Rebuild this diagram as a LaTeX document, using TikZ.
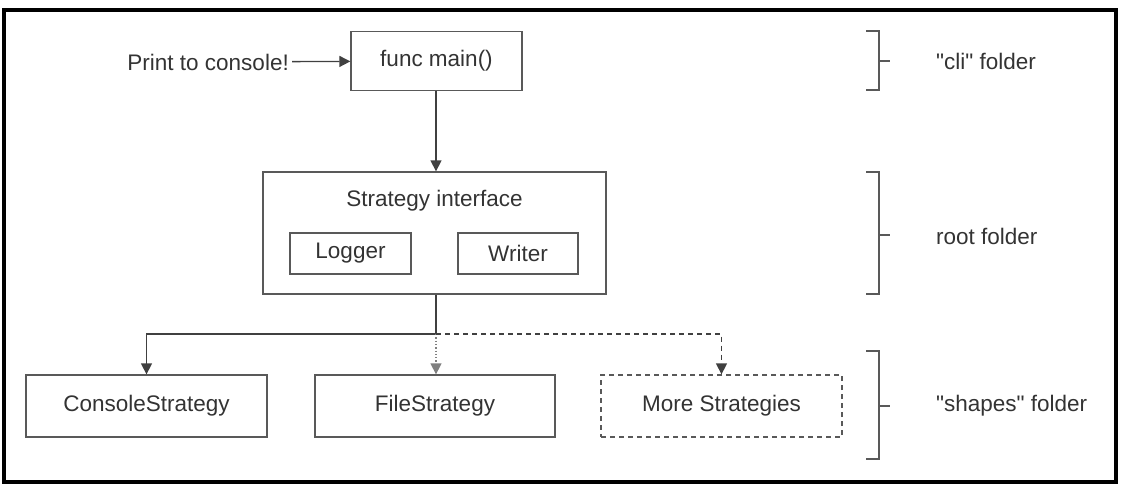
\documentclass[tikz,border=0pt]{standalone}
\usepackage{fontspec}
\setmainfont{Liberation Sans}
\usetikzlibrary{arrows.meta}
\begin{document}
\begin{tikzpicture}[x=1pt, y=-1pt]
% layout in pixel units of the reference
\providecommand{\pkgLineColor}{black!65}
\providecommand{\pkgTextColor}{black!80}
\providecommand{\pkgFrameWidth}{3.5pt}
\tikzset{
  pkgbox/.style={draw=\pkgLineColor, line width=1.3pt, text=\pkgTextColor,
    font=\fontsize{22.5}{26}\selectfont, inner sep=0pt},
  pkgtext/.style={text=\pkgTextColor, font=\fontsize{22.5}{26}\selectfont, inner sep=0pt},
  pkgarrow/.style={draw=black!75, line width=1.3pt, -{Triangle[width=11pt,length=11pt]}},
  pkgbrace/.style={draw=\pkgLineColor, line width=1.3pt}
}
\useasboundingbox (0,0) rectangle (1132,496);
% Outer frame
\draw[line width=\pkgFrameWidth] (4,10) rectangle (1116,482);
% Boxes
\node[pkgbox, minimum width=171pt, minimum height=59pt] (main) at (436.5,61) {func main()};
\node[pkgtext, anchor=east] (print) at (289,62) {Print to console!};
\node[pkgbox, minimum width=343pt, minimum height=122pt] (strat) at (434.5,233) {};
\node[pkgtext] (stratlabel) at (434.5,201) {Strategy interface};
\node[pkgbox, minimum width=121pt, minimum height=41pt] (logger) at (350.5,253.5) {Logger};
\node[pkgbox, minimum width=120pt, minimum height=41pt] (writer) at (518,253.5) {Writer};
\node[pkgbox, minimum width=241pt, minimum height=62pt] (console) at (146.5,406) {ConsoleStrategy};
\node[pkgbox, minimum width=240pt, minimum height=62pt] (file) at (435,406) {FileStrategy};
\node[pkgbox, dashed, dash pattern=on 5pt off 4pt, minimum width=241pt, minimum height=62pt] (more) at (721.5,406) {More Strategies};
% Connectors
\draw[pkgarrow, shorten <=3pt] (print) -- (main);
\draw[pkgarrow] (main.south -| 436,0) -- (strat.north -| 436,0);
\coordinate (branch) at (436,334);
\draw[pkgarrow, -] (strat.south -| branch) -- (branch);
\draw[pkgarrow] (branch) -| (console.north);
\draw[pkgarrow, dotted, draw=black!50] (branch) -- (file.north -| branch);
\draw[pkgarrow, dash pattern=on 5pt off 4pt] (branch) -| (more.north);
% Folder brackets
\draw[pkgbrace] (866,31) -- (879,31) -- (879,90) -- (866,90) (879,61) -- (890,61);
\draw[pkgbrace] (866,172) -- (879,172) -- (879,294) -- (866,294) (879,235) -- (890,235);
\draw[pkgbrace] (866,351) -- (879,351) -- (879,459) -- (866,459) (879,406) -- (890,406);
\node[pkgtext, anchor=west] (cli) at (936,61) {\textquotedbl cli\textquotedbl\ folder};
\node[pkgtext, anchor=west] (root) at (936,236) {root folder};
\node[pkgtext, anchor=west] (shapes) at (936,406) {\textquotedbl shapes\textquotedbl\ folder};
\end{tikzpicture}
\end{document}
